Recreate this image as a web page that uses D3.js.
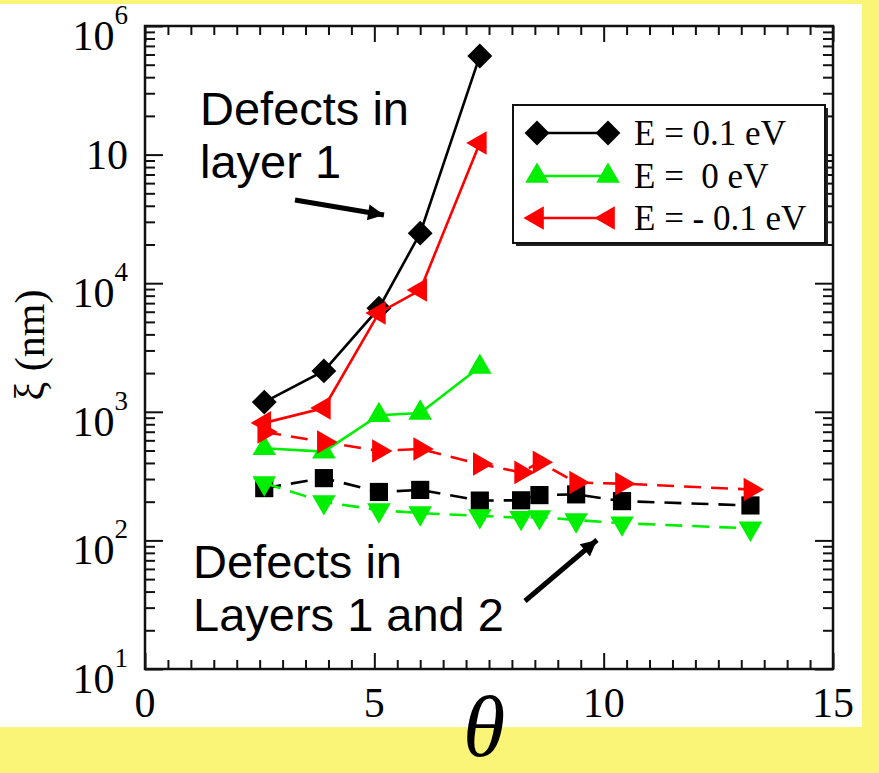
<!DOCTYPE html>
<html>
<head>
<meta charset="utf-8">
<script src="https://cdn.jsdelivr.net/npm/d3@7/dist/d3.min.js"></script>
<style>
  body { margin: 0; background: #faf576; }
  svg { display: block; }
</style>
</head>
<body>
<svg id="chart" width="879" height="773"></svg>
<script>
// data
let thetaL1 = [2.6, 3.9, 5.1, 6.0, 7.3]
let xiL1_p01 = [1190, 2080, 6400, 24500, 585000]
let xiL1_0 = [520, 490, 940, 980, 2230]
let xiL1_m01 = [820, 1070, 5870, 8850, 123000]

let thetaL12 = [2.6, 3.9, 5.1, 6.0, 7.3, 8.2, 8.6, 9.4, 10.4, 13.2]
let xiL12_p01 = [255, 305, 238, 247, 204, 205, 225, 228, 202, 187]
let xiL12_0 = [279, 199, 172, 163, 155, 150, 152, 144, 136, 124]
let xiL12_m01 = [697, 582, 496, 514, 392, 338, 405, 282, 276, 249]

let xTicks = [0, 5, 10, 15]
let yTickExp = [1, 2, 3, 4, 5, 6]
let yTickSup = ["1", "2", "3", "4", "", "6"]   // the 10^5 label shows as plain "10"
let legendLabels = ["E = 0.1 eV", "E =  0 eV", "E = - 0.1 eV"]

let serif = "'Liberation Serif', 'Times New Roman', serif"
let sans = "'Liberation Sans', Arial, sans-serif"

let svg = d3.select("#chart")
let margin = {left: 145, top: 26, right: 46, bottom: 104}
let W = 879 - margin.left - margin.right
let H = 773 - margin.top - margin.bottom

// white page area
svg.append("rect").attr("x", 0).attr("y", 4).attr("width", 862).attr("height", 723).attr("fill", "#fff")

let x = d3.scaleLinear().domain([0, 15]).range([0, W])
let y = d3.scaleLog().domain([10, 1e6]).range([H, 0])

let g = svg.append("g").attr("transform", "translate(" + margin.left + "," + margin.top + ")")

// ticks (inward, on all four sides)
let xMinor = d3.range(0, 15.01, 0.5).filter(v => v % 5 !== 0)
let yMinor = []
for (let e = 1; e < 6; e++) for (let m = 2; m <= 9; m++) yMinor.push(m * Math.pow(10, e))
let yMajor = yTickExp.map(e => Math.pow(10, e))

function tickStyle(sel) {
    sel.select(".domain").remove()
    sel.selectAll("line").attr("stroke", "#111").attr("stroke-width", 2)
    sel.selectAll("text").remove()
}
g.append("g").attr("transform", "translate(0," + H + ")").call(d3.axisBottom(x).tickValues(xMinor).tickSize(-9)).call(tickStyle)
g.append("g").attr("transform", "translate(0," + H + ")").call(d3.axisBottom(x).tickValues(xTicks).tickSize(-16)).call(tickStyle)
g.append("g").call(d3.axisTop(x).tickValues(xMinor).tickSize(-9)).call(tickStyle)
g.append("g").call(d3.axisTop(x).tickValues(xTicks).tickSize(-16)).call(tickStyle)
g.append("g").call(d3.axisLeft(y).tickValues(yMinor).tickSize(-10)).call(tickStyle)
g.append("g").call(d3.axisLeft(y).tickValues(yMajor).tickSize(-18)).call(tickStyle)
g.append("g").attr("transform", "translate(" + W + ",0)").call(d3.axisRight(y).tickValues(yMinor).tickSize(-10)).call(tickStyle)
g.append("g").attr("transform", "translate(" + W + ",0)").call(d3.axisRight(y).tickValues(yMajor).tickSize(-18)).call(tickStyle)

// frame
g.append("rect").attr("width", W).attr("height", H).attr("fill", "none").attr("stroke", "#111").attr("stroke-width", 2.5)

// tick labels
g.selectAll(".xl").data(xTicks).enter().append("text")
    .attr("x", d => x(d)).attr("y", H + 48)
    .attr("text-anchor", "middle")
    .style("font-family", serif).style("font-size", "42px")
    .text(d => d)

yTickExp.forEach(function (e, i) {
    let t = g.append("text")
        .attr("x", -17)
        .attr("y", y(Math.pow(10, e)) + (yTickSup[i] ? 24 : 14))
        .attr("text-anchor", "end")
        .style("font-family", serif).style("font-size", "42px")
    t.append("tspan").text("10")
    if (yTickSup[i]) {
        t.append("tspan").attr("dy", -26).style("font-size", "27px").text(yTickSup[i])
    }
})

// axis titles
svg.append("text")
    .attr("transform", "translate(44,345) rotate(-90)")
    .attr("text-anchor", "middle")
    .style("font-family", serif).style("font-size", "42px")
    .text("ξ (nm)")
svg.append("text")
    .attr("x", 484).attr("y", 756)
    .attr("text-anchor", "middle")
    .style("font-family", serif).style("font-style", "italic").style("font-size", "86px")
    .text("θ")

// series
let diamond = d3.symbol().type(d3.symbolSquare).size(310)
let square = d3.symbol().type(d3.symbolSquare).size(330)
let tri = d3.symbol().type(d3.symbolTriangle).size(240)

let series = [
    {xs: thetaL12, ys: xiL12_p01, color: "#000", dash: "17,10", path: square(), rot: 0},
    {xs: thetaL1, ys: xiL1_p01, color: "#000", dash: null, path: diamond(), rot: 45},
    {xs: thetaL1, ys: xiL1_0, color: "#00ee00", dash: null, path: tri(), rot: 0},
    {xs: thetaL12, ys: xiL12_0, color: "#00ee00", dash: "17,10", path: tri(), rot: 180},
    {xs: thetaL1, ys: xiL1_m01, color: "#ff0000", dash: null, path: tri(), rot: -90},
    {xs: thetaL12, ys: xiL12_m01, color: "#ff0000", dash: "17,10", path: tri(), rot: 90}
]

let line = d3.line().x(d => x(d[0])).y(d => y(d[1]))

series.forEach(function (s) {
    let pts = s.xs.map((v, i) => [v, s.ys[i]])
    g.append("path")
        .datum(pts)
        .attr("d", line)
        .attr("fill", "none")
        .attr("stroke", s.color)
        .attr("stroke-width", 2.6)
        .attr("stroke-dasharray", s.dash)
    g.selectAll(null).data(pts).enter().append("path")
        .attr("d", s.path)
        .attr("transform", d => "translate(" + x(d[0]) + "," + y(d[1]) + ") rotate(" + s.rot + ")")
        .attr("fill", s.color)
})

// legend
let lg = svg.append("g")
lg.append("rect").attr("x", 516).attr("y", 108).attr("width", 312).attr("height", 138).attr("fill", "#222")
lg.append("rect").attr("x", 513).attr("y", 105).attr("width", 312).attr("height", 138)
    .attr("fill", "#fff").attr("stroke", "#111").attr("stroke-width", 2)

let legendItems = [
    {color: "#000", path: diamond(), rot: 45},
    {color: "#00ee00", path: tri(), rot: 0},
    {color: "#ff0000", path: tri(), rot: -90}
]
let legendY = [133, 176, 218]
legendItems.forEach(function (it, i) {
    let ly = legendY[i]
    lg.append("line").attr("x1", 537).attr("x2", 608).attr("y1", ly).attr("y2", ly)
        .attr("stroke", it.color).attr("stroke-width", 2.5)
    ;[537, 608].forEach(function (lx) {
        lg.append("path").attr("d", it.path)
            .attr("transform", "translate(" + lx + "," + ly + ") rotate(" + it.rot + ")")
            .attr("fill", it.color)
    })
    lg.append("text").attr("x", 634).attr("y", ly + 12)
        .style("font-family", serif).style("font-size", "35px")
        .style("white-space", "pre")
        .text(legendLabels[i])
})

// annotations
let defs = svg.append("defs")
defs.append("marker").attr("id", "head")
    .attr("viewBox", "0 0 10 10").attr("refX", 10).attr("refY", 5)
    .attr("markerUnits", "userSpaceOnUse")
    .attr("markerWidth", 22).attr("markerHeight", 16)
    .attr("orient", "auto")
    .append("path").attr("d", "M0,0 L10,5 L0,10 Z").attr("fill", "#000")

function note(lines, tx, ty, lh) {
    let t = svg.append("text").style("font-family", sans).style("font-size", "47px")
    lines.forEach(function (s, i) {
        t.append("tspan").attr("x", tx).attr("y", ty + i * lh).text(s)
    })
}
note(["Defects in", "layer 1"], 200, 125, 53)
note(["Defects in", "Layers 1 and 2"], 193, 578, 53)

svg.append("line").attr("x1", 295).attr("y1", 200).attr("x2", 384).attr("y2", 215)
    .attr("stroke", "#000").attr("stroke-width", 5).attr("marker-end", "url(#head)")
svg.append("line").attr("x1", 525).attr("y1", 601).attr("x2", 597).attr("y2", 540)
    .attr("stroke", "#000").attr("stroke-width", 5).attr("marker-end", "url(#head)")
</script>
</body>
</html>
